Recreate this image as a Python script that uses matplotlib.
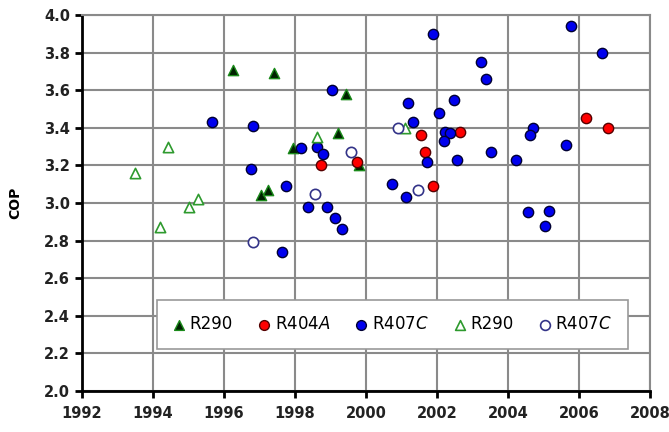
import matplotlib.pyplot as plt

# R290 (filled triangles)
r290_year = [1996.25, 1997.4, 1999.45, 1999.2, 1997.95, 1997.05, 1997.25, 1999.8]
r290_cop = [3.71, 3.69, 3.58, 3.37, 3.29, 3.04, 3.07, 3.20]

# R404A (red circles)
r404a_year = [1998.73, 1999.75, 2001.55, 2001.66, 2001.89, 2002.65, 2006.2, 2006.82]
r404a_cop = [3.20, 3.22, 3.36, 3.27, 3.09, 3.38, 3.45, 3.40]

# R407C (blue circles)
r407c_year = [1995.66, 1996.82, 1996.76, 1997.75, 1998.17, 1998.62, 1998.8, 1999.04,
              1998.37, 1998.9, 1999.13, 1999.32, 1997.63,
              2001.89, 2003.24, 2003.38, 2001.18, 2002.48, 2002.06, 2001.32,
              2002.23, 2002.37, 2002.2, 2001.72, 2002.56, 2003.52, 2004.23,
              2000.73, 2001.13, 2004.7, 2004.62, 2005.63, 2005.77, 2006.65,
              2004.56, 2005.15, 2005.04]
r407c_cop = [3.43, 3.41, 3.18, 3.09, 3.29, 3.30, 3.26, 3.60,
             2.98, 2.98, 2.92, 2.86, 2.74,
             3.90, 3.75, 3.66, 3.53, 3.55, 3.48, 3.43,
             3.38, 3.37, 3.33, 3.22, 3.23, 3.27, 3.23,
             3.10, 3.03, 3.40, 3.36, 3.31, 3.94, 3.80,
             2.95, 2.96, 2.88]

# R290 (open triangles)
r290b_year = [1993.49, 1994.42, 1995.0, 1995.27, 1994.2, 1998.62, 2001.1]
r290b_cop = [3.16, 3.30, 2.98, 3.02, 2.87, 3.35, 3.40]

# R407C (open circles)
r407cb_year = [1996.82, 1998.56, 1999.58, 2000.9, 2001.47]
r407cb_cop = [2.79, 3.05, 3.27, 3.40, 3.07]

fig = plt.figure(figsize=(6.69, 4.32), dpi=100)
ax = fig.add_axes([0.1226, 0.0949, 0.8490, 0.8704])

ms = 55
ax.scatter(r290_year, r290_cop, marker="^", s=ms, c="#002200",
           edgecolors="#1a8a1a", linewidths=1.0, zorder=3, label="R290")
ax.scatter(r404a_year, r404a_cop, marker="o", s=ms, c="#ff0000",
           edgecolors="#550000", linewidths=1.0, zorder=3, label="R404$\\mathit{A}$")
ax.scatter(r407c_year, r407c_cop, marker="o", s=ms, c="#0000ee",
           edgecolors="#000033", linewidths=1.0, zorder=3, label="R407$\\mathit{C}$")
ax.scatter(r290b_year, r290b_cop, marker="^", s=ms, c="white",
           edgecolors="#2e9a2e", linewidths=1.2, zorder=3, label="R290")
ax.scatter(r407cb_year, r407cb_cop, marker="o", s=ms, c="white",
           edgecolors="#333388", linewidths=1.2, zorder=3, label="R407$\\mathit{C}$")

ax.set_xlim(1992, 2008)
ax.set_ylim(2.0, 4.0)
ax.set_xticks(range(1992, 2009, 2))
ax.set_yticks([2.0 + 0.2 * i for i in range(11)])
ax.set_yticklabels(["%.1f" % (2.0 + 0.2 * i) for i in range(11)])

ax.grid(True, color="#8a8a8a", linewidth=1.5, zorder=0)
ax.set_axisbelow(True)
for s in ["top", "right"]:
    ax.spines[s].set_color("#8a8a8a")
    ax.spines[s].set_linewidth(1.5)
for s in ["left", "bottom"]:
    ax.spines[s].set_color("black")
    ax.spines[s].set_linewidth(2.0)
ax.tick_params(direction="out", length=5, width=2, labelsize=10.5, colors="black")
ax.tick_params(axis="x", pad=6)
for lab in ax.get_xticklabels() + ax.get_yticklabels():
    lab.set_fontweight("bold")
    lab.set_color("#222222")

ax.set_ylabel("COP", fontsize=10, fontweight="bold", labelpad=16)

leg = ax.legend(loc="center", bbox_to_anchor=(0.547, 0.177), ncol=5,
                fontsize=12, frameon=True, fancybox=False, framealpha=1,
                edgecolor="#999999", handlelength=0.7, handletextpad=0.3,
                columnspacing=1.5, borderpad=0.95, borderaxespad=0,
                markerscale=0.95)
leg.get_frame().set_linewidth(1.2)

fig.savefig("out.png", dpi=100)
